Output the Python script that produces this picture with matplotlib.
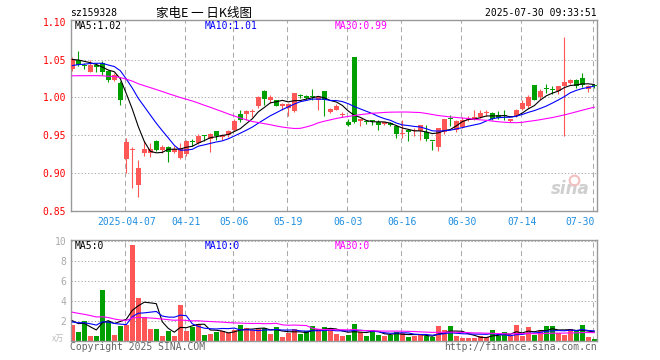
import matplotlib
matplotlib.use('Agg')
import matplotlib.pyplot as plt
import numpy as np
import pandas as pd

# ---- data ----
holidays = ['2025-04-04', '2025-05-01', '2025-05-02', '2025-05-05', '2025-06-02']
days = pd.bdate_range('2025-03-24', '2025-07-30')
days = days[~days.isin(pd.to_datetime(holidays))]

opens = [1.037, 1.050, 1.042, 1.034, 1.043, 1.046, 1.035, 1.023, 1.019, 0.919,
         0.931, 0.884, 0.926, 0.927, 0.943, 0.930, 0.935, 0.928, 0.920, 0.925,
         0.942, 0.940, 0.950, 0.9456, 0.955, 0.948, 0.950, 0.957, 0.9785, 0.978,
         0.981, 0.988, 1.009, 0.997, 0.996, 0.988, 0.9865, 0.982, 1.003, 1.0022,
         1.001, 0.997, 1.008, 0.981, 0.984, 0.977, 0.9675, 1.054, 0.9685, 0.969,
         0.9697, 0.9675, 0.965, 0.966, 0.962, 0.952, 0.9575, 0.956, 0.955, 0.954,
         0.9425, 0.935, 0.954, 0.972, 0.957, 0.961, 0.970, 0.971, 0.974, 0.979,
         0.980, 0.977, 0.977, 0.9685, 0.975, 0.985, 0.988, 1.016, 1.0004, 1.0114,
         1.011, 1.009, 1.015, 1.019, 1.023, 1.026, 1.0114, 1.017]
highs = [1.053, 1.061, 1.045, 1.050, 1.046, 1.048, 1.036, 1.032, 1.021, 0.947,
         0.934, 0.918, 0.942, 0.940, 0.944, 0.937, 0.936, 0.936, 0.940, 0.944,
         0.945, 0.952, 0.9505, 0.953, 0.956, 0.952, 0.957, 0.971, 0.984, 0.983,
         0.985, 1.002, 1.010, 1.003, 0.997, 0.9925, 0.993, 1.006, 1.005, 1.003,
         1.0114, 1.001, 1.009, 0.986, 0.9917, 0.981, 0.972, 1.054, 0.972, 0.9706,
         0.970, 0.9706, 0.968, 0.967, 0.963, 0.970, 0.9575, 0.959, 0.963, 0.963,
         0.9425, 0.960, 0.972, 0.977, 0.970, 0.974, 0.975, 0.984, 0.983, 0.984,
         0.981, 0.982, 0.983, 0.972, 0.985, 0.996, 1.003, 1.016, 1.0114, 1.018,
         1.0145, 1.0145, 1.080, 1.0246, 1.024, 1.032, 1.016, 1.018]
lows = [1.035, 1.041, 1.037, 1.033, 1.034, 1.030, 1.020, 1.021, 0.990, 0.900,
        0.881, 0.868, 0.922, 0.921, 0.929, 0.927, 0.9145, 0.927, 0.919, 0.923,
        0.936, 0.939, 0.942, 0.928, 0.944, 0.944, 0.948, 0.955, 0.9675, 0.970,
        0.974, 0.986, 0.990, 0.992, 0.988, 0.984, 0.976, 0.981, 0.9995, 0.998,
        0.996, 0.984, 0.976, 0.980, 0.983, 0.974, 0.962, 0.966, 0.962, 0.9645,
        0.963, 0.9566, 0.963, 0.962, 0.947, 0.946, 0.9425, 0.949, 0.944, 0.9425,
        0.930, 0.929, 0.952, 0.962, 0.9545, 0.959, 0.969, 0.970, 0.973, 0.976,
        0.970, 0.971, 0.970, 0.967, 0.974, 0.983, 0.986, 0.996, 0.998, 1.0057,
        1.005, 1.005, 0.949, 1.018, 1.013, 1.0136, 1.007, 1.013]
closes = [1.051, 1.043, 1.041, 1.043, 1.0395, 1.034, 1.023, 1.030, 0.997, 0.941,
          0.932, 0.907, 0.932, 0.932, 0.931, 0.935, 0.928, 0.932, 0.933, 0.943,
          0.941, 0.949, 0.949, 0.952, 0.949, 0.950, 0.955, 0.969, 0.9706, 0.982,
          0.982, 1.001, 0.998, 1.001, 0.989, 0.9915, 0.991, 1.0057, 1.002, 0.9987,
          1.000, 1.0004, 0.996, 0.985, 0.988, 0.978, 0.963, 0.968, 0.971, 0.968,
          0.969, 0.963, 0.967, 0.963, 0.952, 0.953, 0.954, 0.957, 0.963, 0.945,
          0.942, 0.959, 0.971, 0.971, 0.969, 0.970, 0.973, 0.974, 0.980, 0.980,
          0.971, 0.973, 0.976, 0.972, 0.983, 0.9925, 1.001, 0.997, 1.009, 1.011,
          1.010, 1.0145, 1.020, 1.023, 1.0145, 1.017, 1.0154, 1.0145]
# volume in 万
volumes = [1.57, 0.87, 2.0, 0.47, 0.47, 5.08, 2.0, 0.57, 1.5, 1.57,
           9.53, 4.28, 2.37, 1.17, 1.17, 0.47, 0.97, 0.47, 3.58, 1.0,
           1.4, 1.7, 0.57, 0.67, 0.9, 0.97, 0.8, 1.07, 1.57, 1.3,
           1.07, 1.14, 1.24, 0.67, 1.4, 0.4, 0.8, 1.17, 0.67, 1.0,
           1.47, 1.17, 1.4, 1.14, 0.67, 0.47, 0.57, 1.67, 0.9, 0.47,
           1.07, 0.57, 0.47, 0.57, 0.9, 0.73, 0.4, 0.47, 0.57, 0.47,
           0.33, 1.47, 1.07, 1.47, 0.47, 0.23, 0.23, 0.3, 0.47, 0.33,
           1.07, 0.47, 0.9, 0.47, 1.57, 0.47, 1.4, 0.57, 1.07, 1.47,
           1.47, 0.8, 0.6, 1.17, 1.07, 1.57, 0.4, 0.17]

# earlier sessions, only needed so the moving averages start on the left edge
prior_closes = [1.038, 1.042, 1.041, 1.039, 1.040, 1.041, 1.039, 1.040,
                1.005, 1.008, 1.012, 1.010, 1.006, 1.009, 1.013, 1.011, 1.008, 1.012, 1.010, 1.011,
                1.030, 1.036, 1.033, 1.037, 1.034,
                1.046, 1.050, 1.052, 1.051]
prior_volumes = [4.2, 5.1, 4.0, 4.8, 4.5, 4.3, 4.9, 4.5,
                 2.8, 2.3, 2.6, 3.1, 2.2, 2.5, 2.4, 2.7, 2.3, 2.6, 2.5, 2.5,
                 1.6, 2.0, 1.5, 1.8, 1.8,
                 2.3, 1.9, 2.2, 2.03]

tick_dates = ['2025-04-07', '2025-04-21', '2025-05-06', '2025-05-19', '2025-06-03',
              '2025-06-16', '2025-06-30', '2025-07-14', '2025-07-30']

# ---- derived ----
n = len(closes)
x = np.arange(n)
o = np.array(opens); h = np.array(highs); l = np.array(lows); c = np.array(closes)
v = np.array(volumes)
all_c = pd.Series(prior_closes + closes)
all_v = pd.Series(prior_volumes + volumes)
np_ = len(prior_closes)
ma = {k: all_c.rolling(k).mean().values[np_:] for k in (5, 10, 30)}
vma = {k: all_v.rolling(k).mean().values[np_:] for k in (5, 10, 30)}

RED = '#ff5656'
GREEN = '#009f00'
up = c >= o
cols = np.where(up, RED, GREEN)
ma_cols = {5: 'black', 10: '#0000ff', 30: '#ff00ff'}

mono = 'DejaVu Sans Mono'
W, H = 660, 360
fig = plt.figure(figsize=(6.6, 3.6), dpi=100)

def frac(x0, y0, x1, y1):
    return [x0 / W, 1 - y1 / H, (x1 - x0) / W, (y1 - y0) / H]

ax = fig.add_axes(frac(70.5, 20.3, 597.3, 211))
axv = fig.add_axes(frac(70.5, 240, 597.3, 340.7))

tick_idx = [int(np.where(days == pd.Timestamp(d))[0][0]) for d in tick_dates]
tick_lab = [tick_dates[0]] + [pd.Timestamp(d).strftime('%m-%d') for d in tick_dates[1:]]

for a in (ax, axv):
    a.set_xlim(-0.3, n - 0.5)
    for s in a.spines.values():
        s.set_color('#999999')
        s.set_linewidth(1.0)
    for t in tick_idx:
        a.axvline(t - 0.3, color='#aaaaaa', lw=0.75, ls=(0, (4.8, 3.4)), zorder=0)
    a.tick_params(length=0)

# ---- price panel ----
ax.set_ylim(0.85, 1.1018)
for yv in [0.90, 0.95, 1.00, 1.05]:
    ax.axhline(yv, color='#aaaaaa', lw=0.75, ls=(0, (1.2, 2.0)), zorder=0)
ax.vlines(x, l, h, colors=cols, lw=0.8, zorder=2)
body = np.maximum(np.abs(c - o), 0.0013)
ax.bar(x, body, bottom=np.minimum(o, c), width=0.78, color=cols, lw=0, zorder=3)
for k in (5, 10, 30):
    ax.plot(x, ma[k], color=ma_cols[k], lw=0.8, zorder=4)

ax.set_yticks([0.85, 0.90, 0.95, 1.00, 1.05, 1.10])
ax.set_yticklabels(['%.2f' % t for t in [0.85, 0.90, 0.95, 1.00, 1.05, 1.10]],
                   color='red', fontsize=7, family=mono)
ax.tick_params(axis='y', pad=3)
ax.set_xticks(tick_idx)
ax.set_xticklabels(tick_lab, color='#1e8ee0', fontsize=7, family=mono)
ax.tick_params(axis='x', pad=4)
ax.get_xticklabels()[-1].set_ha('right')
ax.get_xticklabels()[-1].set_x(tick_idx[-1])

ax.text(75 / W, 27 / H, 'MA5:%.2f' % ma[5][-1], transform=fig.transFigure,
        color='black', fontsize=7, family=mono, va='center')
ax.text(205 / W, 27 / H, 'MA10:%.2f' % ma[10][-1], transform=fig.transFigure,
        color='#0000ff', fontsize=7, family=mono, va='center')
ax.text(335 / W, 27 / H, 'MA30:%.2f' % ma[30][-1], transform=fig.transFigure,
        color='#ff00ff', fontsize=7, family=mono, va='center')
for t in ax.texts:
    t.set_y(1 - 26 / H)

# sina watermark
ax.text(0.985, 0.07, 'sina', transform=ax.transAxes, ha='right', va='bottom',
        fontsize=12, fontweight='bold', style='italic', color='#cfcfcf', zorder=1)
ax.plot([0.955], [0.16], marker='o', ms=7, mfc='none', mec='#f3c0c0', mew=1.5,
        transform=ax.transAxes, zorder=1)

# ---- volume panel ----
axv.set_ylim(0, 10.07)
for yv in [2, 4, 6, 8, 10]:
    axv.axhline(yv, color='#aaaaaa', lw=0.75, ls=(0, (1.2, 2.0)), zorder=0)
axv.bar(x, v, width=0.78, color=cols, lw=0, zorder=2)
for k in (5, 10, 30):
    axv.plot(x, vma[k], color=ma_cols[k], lw=0.8, zorder=3)
axv.set_yticks([2, 4, 6, 8, 10])
axv.set_yticklabels(['2', '4', '6', '8', '10'], color='#aaaaaa', fontsize=7, family=mono)
axv.tick_params(axis='y', pad=3)
axv.set_xticks([])

fig.text(75 / W, 1 - 246 / H, 'MA5:0', color='black', fontsize=7, family=mono, va='center')
fig.text(205 / W, 1 - 246 / H, 'MA10:0', color='#0000ff', fontsize=7, family=mono, va='center')
fig.text(335 / W, 1 - 246 / H, 'MA30:0', color='#ff00ff', fontsize=7, family=mono, va='center')
fig.text(64 / W, 1 - 338 / H, 'x万', color='#bbbbbb', fontsize=6, ha='right', va='center',
         family=['Noto Sans CJK SC', 'DejaVu Sans'])

# ---- header / footer ----
fig.text(70 / W, 1 - 13 / H, 'sz159328', color='black', fontsize=7, family=mono, va='center')
fig.text(204 / W, 1 - 13 / H, '家电E 一 日K线图', color='black', fontsize=9, ha='center',
         va='center', family=['Noto Sans CJK SC', 'DejaVu Sans'])
fig.text(597 / W, 1 - 13 / H, '2025-07-30 09:33:51', color='black', fontsize=7,
         family=mono, ha='right', va='center')
fig.text(70 / W, 1 - 347 / H, 'Copyright 2025 SINA.COM', color='#666666', fontsize=7,
         family=mono, va='center')
fig.text(597 / W, 1 - 347 / H, 'http://finance.sina.com.cn', color='#666666', fontsize=7,
         family=mono, ha='right', va='center')

fig.savefig('out.png', dpi=100)
